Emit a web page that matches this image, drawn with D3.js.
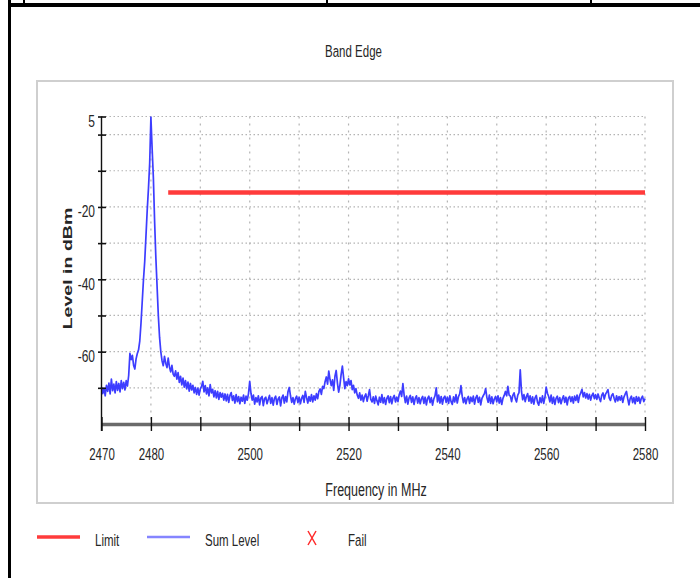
<!DOCTYPE html>
<html>
<head>
<meta charset="utf-8">
<script src="https://cdn.jsdelivr.net/npm/d3@7"></script>
<style>
  html, body { margin: 0; padding: 0; background: #fff; }
  svg { display: block; }
  text { font-family: "Liberation Sans", Arial, sans-serif; fill: #262626; }
</style>
</head>
<body>
<svg id="chart" width="700" height="578"></svg>
<script>
// ---------------- DATA ----------------
const chartTitle = "Band Edge";
const xAxisTitle = "Frequency in MHz";
const yAxisTitle = "Level in dBm";

// Sum Level trace: sampled every 0.25 MHz from 2470 MHz to 2580 MHz (dBm)
const freqStart = 2470;
const freqStep = 0.25;
const sumLevel = [
  // 2470 - 2474.75
  -69.8,-71.6,-70.1,-72.2,-69.3,-71.0,-68.7,-71.7,-67.6,-70.8,-69.0,-71.4,-68.3,-70.7,-68.8,-71.1,-68.0,-70.2,-68.5,-70.6,
  // 2475 - 2479.75
  -68.0,-69.5,-66.6,-60.5,-62.2,-61.0,-63.8,-64.8,-62.0,-60.5,-59.5,-57.0,-52.0,-46.0,-40.0,-35.0,-28.0,-21.0,-15.0,-8.0,
  // 2480 - 2484.75
  4.8,-4.0,-12.0,-24.0,-34.0,-42.0,-50.0,-56.0,-60.0,-62.5,-63.9,-61.3,-63.2,-64.4,-61.8,-64.2,-65.6,-63.8,-66.2,-66.8,
  // 2485 - 2489.75
  -65.3,-67.6,-65.8,-68.5,-66.8,-69.2,-67.3,-69.8,-68.0,-70.3,-68.4,-70.9,-68.8,-70.6,-69.3,-71.4,-69.9,-71.8,-70.1,-72.0,
  // 2490 - 2494.75
  -70.3,-69.6,-68.2,-71.1,-69.4,-71.7,-70.0,-72.2,-69.1,-71.4,-70.4,-72.5,-70.8,-72.8,-71.0,-73.2,-71.3,-72.6,-71.5,-73.4,
  // 2495 - 2499.75
  -71.7,-73.6,-71.8,-74.0,-72.1,-71.3,-73.5,-72.2,-74.2,-71.9,-73.8,-72.4,-74.4,-72.6,-73.7,-72.0,-74.3,-72.3,-73.4,-71.6,
  // 2500 - 2504.75
  -68.2,-71.5,-73.4,-72.0,-74.5,-72.7,-73.9,-72.2,-74.7,-72.8,-72.4,-74.9,-73.0,-72.6,-74.4,-73.2,-72.1,-74.3,-72.7,-74.8,
  // 2505 - 2509.75
  -72.9,-72.3,-74.6,-73.1,-72.5,-75.0,-72.8,-72.0,-74.2,-72.4,-73.9,-71.0,-69.9,-72.2,-74.0,-72.7,-74.5,-73.0,-72.3,-74.1,
  // 2510 - 2514.75
  -72.6,-74.4,-72.9,-72.1,-74.0,-71.0,-72.7,-74.2,-72.4,-73.7,-71.9,-73.9,-72.2,-73.4,-71.6,-73.0,-71.0,-70.3,-71.8,-69.6,
  // 2515 - 2519.75
  -70.2,-68.3,-67.0,-69.0,-65.4,-67.7,-69.4,-67.8,-70.7,-66.8,-65.2,-68.7,-71.2,-69.3,-66.3,-64.0,-67.2,-70.2,-68.3,-69.4,
  // 2520 - 2524.75
  -67.5,-69.2,-68.0,-70.5,-69.3,-71.4,-70.2,-72.0,-72.9,-71.4,-73.4,-72.0,-73.8,-72.4,-71.7,-73.7,-72.2,-70.5,-73.2,-73.9,
  // 2525 - 2529.75
  -72.5,-74.3,-72.3,-73.6,-74.7,-72.6,-74.0,-71.9,-74.2,-72.7,-74.6,-72.9,-72.2,-74.1,-72.4,-74.4,-72.8,-72.1,-73.9,-72.6,
  // 2530 - 2534.75
  -73.8,-71.9,-70.9,-72.4,-68.8,-72.0,-74.1,-72.3,-74.5,-72.8,-72.1,-74.0,-72.5,-74.6,-72.9,-72.2,-74.2,-72.7,-74.4,-73.0,
  // 2535 - 2539.75
  -72.4,-74.3,-72.6,-74.7,-72.9,-72.3,-74.1,-72.7,-74.8,-73.1,-72.2,-70.0,-73.9,-72.0,-74.2,-72.4,-74.5,-72.8,-72.3,-74.0,
  // 2540 - 2544.75
  -72.6,-74.3,-72.2,-73.8,-74.6,-72.5,-73.9,-71.9,-74.2,-72.4,-71.7,-69.4,-72.3,-74.1,-72.7,-74.4,-73.0,-72.4,-74.3,-72.6,
  // 2545 - 2549.75
  -73.8,-72.3,-74.5,-72.8,-72.1,-74.0,-72.6,-74.7,-72.9,-72.2,-71.6,-70.2,-72.7,-74.0,-72.0,-74.3,-72.5,-74.4,-73.1,-72.4,
  // 2550 - 2554.75
  -73.9,-72.2,-74.2,-72.7,-74.6,-72.9,-72.1,-71.0,-72.2,-69.6,-72.0,-72.3,-73.8,-72.1,-71.4,-73.0,-73.9,-72.0,-71.3,-65.0,
  // 2555 - 2559.75
  -71.0,-73.3,-71.9,-73.8,-72.4,-71.6,-73.7,-72.2,-74.2,-72.5,-74.5,-72.8,-72.1,-74.0,-74.8,-72.7,-74.1,-72.2,-74.3,-72.6,
  // 2560 - 2564.75
  -69.8,-71.5,-72.4,-73.9,-72.0,-74.3,-72.6,-74.6,-72.9,-72.3,-74.1,-72.7,-74.4,-73.1,-72.2,-74.0,-72.6,-74.7,-72.8,-72.4,
  // 2565 - 2569.75
  -73.8,-72.5,-74.2,-72.3,-73.5,-72.0,-74.0,-72.2,-71.4,-70.4,-72.5,-71.3,-72.8,-71.6,-73.1,-71.8,-73.4,-72.1,-71.5,-73.0,
  // 2570 - 2574.75
  -71.9,-73.2,-71.7,-72.9,-73.8,-72.0,-71.4,-73.1,-71.8,-71.2,-70.5,-72.8,-73.5,-72.1,-71.6,-72.9,-73.9,-72.2,-73.6,-72.4,
  // 2575 - 2579.75
  -73.4,-72.2,-74.0,-72.5,-71.7,-71.0,-73.0,-74.7,-73.0,-72.3,-74.1,-72.7,-74.4,-72.4,-73.7,-72.6,-74.3,-72.9,-72.3,-73.8,
  // 2580
  -73.0
];

// Limit line
const limitFreq = [2483.5, 2580];
const limitLevel = [-16, -16];

// Axes
const xDomain = [2470, 2580];
const yDomain = [-80, 5];
const xTicks = [2470, 2480, 2490, 2500, 2510, 2520, 2530, 2540, 2550, 2560, 2570, 2580];
const xTickLabels = [2470, 2480, 2500, 2520, 2540, 2560, 2580];
const xGrid = [2480, 2490, 2500, 2510, 2520, 2530, 2540, 2550, 2560, 2570, 2580];
const yTicks = [5, 0, -10, -20, -30, -40, -50, -60, -70];
const yTickLabels = [5, -20, -40, -60];

// Legend
const legendNames = ["Limit", "Sum Level", "Fail"];
const legendKinds = ["line", "line", "cross"];
const legendColors = ["#ff3b3b", "#8585ff", "#ff2a2a"];

// ---------------- DRAW ----------------
const SY = 1.45; // vertical stretch of the original text rendering
const svg = d3.select("#chart");

// page frame (table borders)
svg.append("rect").attr("x", 8).attr("y", 3).attr("width", 692).attr("height", 4).attr("fill", "#000");
svg.append("rect").attr("x", 8).attr("y", 0).attr("width", 3).attr("height", 578).attr("fill", "#000");
[24, 327, 591].forEach(px => {
  svg.append("rect").attr("x", px - 1).attr("y", 0).attr("width", 2).attr("height", 4).attr("fill", "#000");
});

// chart box
svg.append("rect").attr("x", 37).attr("y", 81).attr("width", 636).attr("height", 422)
  .attr("fill", "#fff").attr("stroke", "#cfcfcf").attr("stroke-width", 2);

const x = d3.scaleLinear().domain(xDomain).range([101.5, 645]);
const y = d3.scaleLinear().domain(yDomain).range([424, 116.5]);

function sText(parent, px, py, str, size, anchor, weight) {
  const g = parent.append("g").attr("transform", `translate(${px},${py}) scale(1,${SY})`);
  return g.append("text").attr("text-anchor", anchor || "start")
    .attr("font-size", size).attr("font-weight", weight || "normal").text(str);
}

// title
sText(svg, 353.5, 57, chartTitle, 11.5, "middle");

// grid
const grid = svg.append("g");
grid.selectAll("line.h").data(yTicks).join("line")
  .attr("x1", x(xDomain[0])).attr("x2", x(xDomain[1]))
  .attr("y1", d => y(d)).attr("y2", d => y(d))
  .attr("stroke", "#b4b4b4").attr("stroke-width", 1.2).attr("stroke-dasharray", "1.5,2.5");
grid.selectAll("line.v").data(xGrid).join("line")
  .attr("x1", d => x(d)).attr("x2", d => x(d))
  .attr("y1", y(yDomain[1])).attr("y2", y(yDomain[0]))
  .attr("stroke", "#b4b4b4").attr("stroke-width", 1.2).attr("stroke-dasharray", "2,5");

// limit line
const limitData = limitFreq.map((f, i) => [f, limitLevel[i]]);
svg.append("path").datum(limitData)
  .attr("d", d3.line().x(d => x(d[0])).y(d => y(d[1])))
  .attr("fill", "none").attr("stroke", "#ff3b3b").attr("stroke-width", 4.5);

// sum level trace
svg.append("path").datum(sumLevel)
  .attr("d", d3.line().x((d, i) => x(freqStart + i * freqStep)).y(d => y(d)))
  .attr("fill", "none").attr("stroke", "#3d3dff").attr("stroke-width", 1.7)
  .attr("stroke-linejoin", "round");

// x axis
const xAxis = svg.append("g").attr("transform", `translate(0,${y(yDomain[0])})`)
  .call(d3.axisBottom(x).tickValues(xTicks).tickSizeOuter(0).tickSizeInner(7)
    .tickFormat(d => xTickLabels.includes(d) ? d : ""));
xAxis.select(".domain").attr("stroke", "#6a6a6a").attr("stroke-width", 3.5);
xAxis.selectAll(".tick line").attr("y1", -7).attr("y2", 7).attr("stroke", "#111").attr("stroke-width", 1.4);
xAxis.selectAll(".tick text").attr("y", 0).attr("dy", null)
  .attr("transform", `translate(0,36) scale(1,${SY})`)
  .attr("font-size", 11.5).attr("font-family", "Liberation Sans, Arial, sans-serif").attr("fill", "#1e1e1e");

// y axis
const yAxis = svg.append("g").attr("transform", `translate(${x(xDomain[0])},0)`)
  .call(d3.axisLeft(y).tickValues(yTicks).tickSizeOuter(0).tickSizeInner(4)
    .tickFormat(d => yTickLabels.includes(d) ? d : ""));
yAxis.select(".domain").attr("d", `M0,${y(yDomain[1])}V${y(yDomain[0]) + 7}`)
  .attr("stroke", "#111").attr("stroke-width", 1.4);
yAxis.selectAll(".tick line").attr("x1", -3.5).attr("x2", 4.5).attr("stroke", "#111").attr("stroke-width", 1.6);
yAxis.selectAll(".tick text").attr("x", 0).attr("dy", null).attr("y", 0)
  .attr("transform", `translate(-6.5,10) scale(1,${SY})`)
  .attr("font-size", 12).attr("font-family", "Liberation Sans, Arial, sans-serif").attr("fill", "#1e1e1e");

// axis titles
sText(svg, 376, 496, xAxisTitle, 12.5, "middle");
svg.append("g").attr("transform", `translate(72,268.5) rotate(-90) scale(${SY},1)`)
  .append("text").attr("text-anchor", "middle").attr("font-size", 13.5)
  .attr("font-weight", "bold").attr("fill", "#3a3330").text(yAxisTitle);

// legend
const legendX = [37, 147, 308];
const legendTextX = [95, 205, 348];
const legend = svg.append("g");
legendNames.forEach((name, i) => {
  if (legendKinds[i] === "line") {
    legend.append("line").attr("x1", legendX[i]).attr("x2", legendX[i] + 43)
      .attr("y1", 537).attr("y2", 537)
      .attr("stroke", legendColors[i]).attr("stroke-width", i === 0 ? 3.5 : 2.5);
  } else {
    const cx = legendX[i] + 4, cy = 538;
    legend.append("path")
      .attr("d", `M${cx - 4},${cy - 7}L${cx + 4},${cy + 7}M${cx + 4},${cy - 7}L${cx - 4},${cy + 7}`)
      .attr("stroke", legendColors[i]).attr("stroke-width", 1.5).attr("fill", "none");
  }
  sText(legend, legendTextX[i], 546, name, 11.5, "start");
});
</script>
</body>
</html>
